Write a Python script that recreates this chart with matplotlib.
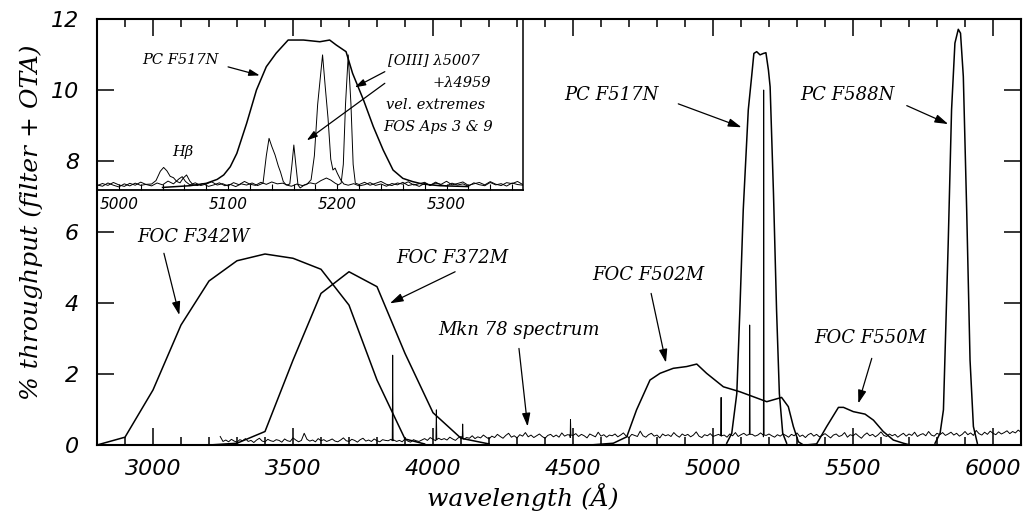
import numpy as np
import matplotlib.pyplot as plt
from matplotlib.ticker import MultipleLocator

# filter throughput curves (% throughput, filter + OTA)
f342w_wl = [2800, 2900, 3000, 3100, 3200, 3300, 3400, 3500, 3600, 3700, 3800, 3900, 3970]
f342w_val = [0.0, 0.22, 1.55, 3.38, 4.62, 5.19, 5.38, 5.26, 4.95, 3.94, 1.83, 0.17, 0.03]

f372m_wl = [3200, 3300, 3400, 3500, 3600, 3700, 3800, 3900, 4000, 4100, 4200]
f372m_val = [0.0, 0.05, 0.38, 2.39, 4.27, 4.88, 4.46, 2.58, 0.91, 0.19, 0.03]

f502m_wl = [4560, 4644, 4692, 4727, 4775, 4811, 4858, 4906, 4942, 4977, 5037, 5096,
            5144, 5192, 5245, 5269, 5287, 5305, 5323]
f502m_val = [0.0, 0.05, 0.23, 0.99, 1.83, 2.02, 2.16, 2.21, 2.28, 2.02, 1.64, 1.50,
             1.36, 1.22, 1.34, 1.08, 0.52, 0.09, 0.0]

f550m_wl = [5330, 5370, 5406, 5448, 5466, 5501, 5543, 5573, 5608, 5644, 5680, 5704]
f550m_val = [0.0, 0.03, 0.52, 1.06, 1.06, 0.94, 0.87, 0.70, 0.38, 0.14, 0.05, 0.0]

f517n_wl = [5049, 5067, 5085, 5096, 5108, 5126, 5138, 5146, 5156, 5168, 5180, 5189,
            5198, 5204, 5216, 5227, 5237, 5249, 5263]
f517n_val = [0.05, 0.33, 1.45, 3.80, 6.62, 9.44, 10.38, 11.03, 11.08, 10.99, 11.03, 11.05,
             10.56, 10.09, 7.09, 3.80, 1.45, 0.33, 0.05]

f588n_wl = [5793, 5811, 5823, 5840, 5852, 5864, 5876, 5884, 5894, 5906, 5918, 5930, 5944]
f588n_val = [0.05, 0.33, 0.99, 5.68, 9.44, 11.32, 11.71, 11.60, 10.38, 6.62, 2.39, 0.52, 0.05]

# Mkn 78 spectrum, 10 A steps from 3240 A
spec_start = 3240
spec_step = 10
spec_flux = [
    0.24, 0.10, 0.14, 0.09, 0.16, 0.11, 0.08, 0.15, 0.12, 0.18, 0.10, 0.13, 0.07, 0.14, 0.19, 0.11, 0.09, 0.16, 0.12, 0.10,
    0.15, 0.13, 0.08, 0.17, 0.12, 0.10, 0.20, 0.14, 0.09, 0.13, 0.33, 0.16, 0.11, 0.14, 0.09, 0.18, 0.12, 0.15, 0.10, 0.13,
    0.17, 0.11, 0.09, 0.14, 0.20, 0.12, 0.10, 0.16, 0.13, 0.08, 0.15, 0.19, 0.11, 0.14, 0.10, 0.17, 0.12, 0.09, 0.15, 0.13,
    0.12, 0.16, 0.14, 0.10, 0.13, 0.09, 0.17, 0.11, 0.08, 0.15, 0.12, 0.10, 0.14, 0.18, 0.13, 0.21, 0.16, 0.12, 0.19, 0.15,
    0.18, 0.14, 0.22, 0.17, 0.13, 0.20, 0.24, 0.16, 0.21, 0.19, 0.26, 0.18, 0.23, 0.20, 0.28, 0.22, 0.17, 0.25, 0.21, 0.30,
    0.24, 0.19, 0.27, 0.33, 0.22, 0.26, 0.20, 0.29, 0.25, 0.35, 0.23, 0.28, 0.21, 0.26, 0.31, 0.24, 0.19, 0.27, 0.30, 0.23,
    0.28, 0.22, 0.34, 0.25, 0.29, 0.21, 0.27, 0.32, 0.24, 0.30, 0.26, 0.20, 0.31, 0.27, 0.23, 0.36, 0.25, 0.29, 0.22, 0.28,
    0.26, 0.31, 0.23, 0.28, 0.34, 0.25, 0.21, 0.30, 0.27, 0.24, 0.39, 0.26, 0.22, 0.29, 0.33, 0.25, 0.28, 0.20, 0.31, 0.26,
    0.29, 0.24, 0.35, 0.27, 0.22, 0.31, 0.26, 0.30, 0.23, 0.28, 0.37, 0.25, 0.21, 0.29, 0.26, 0.32, 0.24, 0.27, 0.30, 0.25,
    0.28, 0.22, 0.31, 0.26, 0.35, 0.24, 0.29, 0.33, 0.27, 0.36, 0.30, 0.25, 0.28, 0.34, 0.23, 0.27, 0.31, 0.26, 0.22, 0.29,
    0.25, 0.31, 0.27, 0.22, 0.30, 0.26, 0.34, 0.24, 0.28, 0.21, 0.29, 0.33, 0.25, 0.30, 0.23, 0.27, 0.32, 0.26, 0.20, 0.28,
    0.31, 0.24, 0.27, 0.35, 0.22, 0.29, 0.26, 0.32, 0.25, 0.19, 0.28, 0.34, 0.26, 0.30, 0.23, 0.29, 0.37, 0.27, 0.24, 0.31,
    0.26, 0.30, 0.22, 0.28, 0.33, 0.25, 0.31, 0.27, 0.36, 0.24, 0.29, 0.32, 0.26, 0.38, 0.28, 0.25, 0.33, 0.29, 0.35, 0.27,
    0.31, 0.36, 0.28, 0.33, 0.25, 0.30, 0.38, 0.29, 0.34, 0.27, 0.41, 0.32, 0.28, 0.36, 0.30, 0.39, 0.33, 0.29, 0.37, 0.31,
    0.35, 0.40, 0.32, 0.38, 0.34, 0.42, 0.36,
]
# narrow emission lines on top of the spectrum
line_wl = [3856, 4012, 4106, 4491, 5029, 5131, 5181]
line_peak = [2.53, 0.99, 0.59, 0.72, 1.34, 3.38, 10.0]
line_foot = [0.12, 0.15, 0.20, 0.28, 0.26, 0.30, 0.28]

# inset: PC F517N (relative) and two FOS spectra (velocity extremes)
ins_filt_wl = [5040, 5065, 5080, 5090, 5096, 5102, 5108, 5117, 5126, 5135, 5144, 5155, 5169, 5184,
               5193, 5199, 5208, 5214, 5224, 5233, 5242, 5251, 5260, 5269, 5278, 5294, 5320]
ins_filt_val = [0.015, 0.025, 0.039, 0.062, 0.088, 0.136, 0.214, 0.39, 0.585, 0.721, 0.80, 0.877, 0.877, 0.867,
                0.877, 0.848, 0.809, 0.682, 0.526, 0.37, 0.234, 0.117, 0.068, 0.049, 0.035, 0.025, 0.02]

ap3 = [(4980, 0.030), (4985, 0.022), (4990, 0.041), (4995, 0.028), (5000, 0.018), (5005, 0.036),
       (5010, 0.024), (5015, 0.040), (5020, 0.027), (5025, 0.033), (5030, 0.035), (5034, 0.055),
       (5038, 0.110), (5041, 0.132), (5044, 0.112), (5047, 0.080), (5050, 0.072), (5053, 0.050),
       (5056, 0.042), (5059, 0.070), (5062, 0.088), (5065, 0.052), (5068, 0.030), (5072, 0.026),
       (5077, 0.038), (5082, 0.021), (5087, 0.030), (5092, 0.042), (5097, 0.025), (5102, 0.033),
       (5107, 0.020), (5112, 0.036), (5117, 0.029), (5122, 0.041), (5127, 0.026), (5132, 0.040),
       (5135, 0.200), (5137.5, 0.302), (5140, 0.255), (5143, 0.205), (5146, 0.140), (5148, 0.105),
       (5150.5, 0.050), (5153, 0.030), (5158, 0.022), (5163, 0.035), (5168, 0.026), (5172, 0.032),
       (5176, 0.060), (5179, 0.200), (5182, 0.500), (5186.5, 0.790), (5189, 0.600), (5191.5, 0.420),
       (5194, 0.180), (5196, 0.117), (5198, 0.128), (5200, 0.098), (5203, 0.060), (5206, 0.035),
       (5210, 0.028), (5215, 0.037), (5220, 0.024), (5225, 0.031), (5230, 0.043), (5235, 0.027),
       (5240, 0.035), (5245, 0.022), (5250, 0.038), (5255, 0.030), (5260, 0.045), (5265, 0.026),
       (5270, 0.034), (5275, 0.021), (5280, 0.039), (5285, 0.028), (5290, 0.046), (5295, 0.030),
       (5300, 0.024), (5305, 0.040), (5310, 0.029), (5315, 0.036), (5320, 0.022), (5325, 0.042),
       (5330, 0.031), (5335, 0.025), (5340, 0.044), (5345, 0.030), (5350, 0.037), (5355, 0.023),
       (5360, 0.041), (5365, 0.032), (5370, 0.028)]

ap9 = [(4980, 0.025), (4985, 0.038), (4990, 0.027), (4995, 0.044), (5000, 0.030), (5005, 0.021),
       (5010, 0.039), (5015, 0.028), (5020, 0.046), (5025, 0.032), (5030, 0.024), (5035, 0.041),
       (5040, 0.030), (5045, 0.052), (5050, 0.036), (5055, 0.065), (5058, 0.078), (5061, 0.050),
       (5065, 0.030), (5070, 0.042), (5075, 0.026), (5080, 0.035), (5085, 0.048), (5090, 0.029),
       (5095, 0.037), (5100, 0.024), (5105, 0.043), (5110, 0.031), (5115, 0.050), (5120, 0.034),
       (5125, 0.027), (5130, 0.045), (5135, 0.033), (5140, 0.047), (5145, 0.036), (5150, 0.040),
       (5154, 0.030), (5156.5, 0.035), (5158.5, 0.150), (5160.2, 0.263), (5162, 0.150), (5164, 0.030),
       (5166, 0.012), (5170, 0.030), (5175, 0.042), (5180, 0.035), (5185, 0.055), (5190, 0.070),
       (5194, 0.058), (5198, 0.040), (5201, 0.030), (5203.5, 0.040), (5205.5, 0.150), (5207.5, 0.500),
       (5210, 0.790), (5212.5, 0.500), (5214.5, 0.150), (5216.5, 0.040), (5220, 0.032), (5225, 0.045),
       (5230, 0.028), (5235, 0.039), (5240, 0.050), (5245, 0.033), (5250, 0.026), (5255, 0.041),
       (5260, 0.034), (5265, 0.048), (5270, 0.029), (5275, 0.037), (5280, 0.045), (5285, 0.026),
       (5290, 0.040), (5295, 0.033), (5300, 0.051), (5305, 0.030), (5310, 0.038), (5315, 0.047),
       (5320, 0.027), (5325, 0.036), (5330, 0.044), (5335, 0.030), (5340, 0.049), (5345, 0.034),
       (5350, 0.026), (5355, 0.043), (5360, 0.037), (5365, 0.050), (5370, 0.031)]

W, H = 1026, 523
serif = dict(family='DejaVu Serif', style='italic')
arrow = dict(arrowstyle='-|>,head_length=0.8,head_width=0.25', color='k', lw=0.9,
             shrinkA=0, shrinkB=0, mutation_scale=10)
arrow_small = dict(arrow, mutation_scale=8)

fig = plt.figure(figsize=(W / 100, H / 100), dpi=100)
ax = fig.add_axes([97 / W, 1 - 445 / H, 924 / W, 426 / H])

ax.plot(f342w_wl, f342w_val, 'k-', lw=1.1)
ax.plot(f372m_wl, f372m_val, 'k-', lw=1.1)
ax.plot(f502m_wl, f502m_val, 'k-', lw=1.1)
ax.plot(f550m_wl, f550m_val, 'k-', lw=1.1)
ax.plot(f517n_wl, f517n_val, 'k-', lw=1.1)
ax.plot(f588n_wl, f588n_val, 'k-', lw=1.1)

# spectrum with the narrow lines merged in
sw = list(spec_start + spec_step * np.arange(len(spec_flux)))
sf = list(spec_flux)
for w, p, b in zip(line_wl, line_peak, line_foot):
    sw += [w - 1.5, w, w + 1.5]
    sf += [b, p, b]
order = np.argsort(sw, kind='stable')
ax.plot(np.array(sw)[order], np.array(sf)[order], 'k-', lw=0.7)

ax.set_xlim(2800, 6100)
ax.set_ylim(0, 12)
ax.xaxis.set_major_locator(MultipleLocator(500))
ax.xaxis.set_minor_locator(MultipleLocator(100))
ax.yaxis.set_major_locator(MultipleLocator(2))
ax.tick_params(which='both', direction='in', top=True, right=True, width=1.1)
ax.tick_params(which='major', length=12)
ax.tick_params(which='minor', length=6)
ax.tick_params(axis='x', pad=10)
ax.tick_params(axis='y', pad=13)
for lab in ax.get_xticklabels() + ax.get_yticklabels():
    lab.set_fontsize(16)
    lab.set_fontstyle('oblique')
for sp in ax.spines.values():
    sp.set_linewidth(1.5)

fig.text(523 / W, 1 - 497 / H, 'wavelength (Å)', ha='center', va='center', fontsize=18, **serif)
fig.text(31 / W, 1 - 222 / H, '% throughput (filter + OTA)', ha='center', va='center',
         rotation=90, fontsize=18, **serif)

# labels in the main panel
ax.text(4638, 9.86, 'PC F517N', ha='center', va='center', fontsize=13, **serif)
ax.annotate('', xy=(5102, 8.95), xytext=(4876, 9.61), arrowprops=arrow)
ax.text(5480, 9.86, 'PC F588N', ha='center', va='center', fontsize=13, **serif)
ax.annotate('', xy=(5840, 9.04), xytext=(5692, 9.56), arrowprops=arrow)
ax.text(4768, 4.79, 'FOC F502M', ha='center', va='center', fontsize=13, **serif)
ax.annotate('', xy=(4832, 2.32), xytext=(4779, 4.27), arrowprops=arrow)
ax.text(5562, 3.01, 'FOC F550M', ha='center', va='center', fontsize=13, **serif)
ax.annotate('', xy=(5519, 1.17), xytext=(5567, 2.44), arrowprops=arrow)
ax.text(4307, 3.24, 'Mkn 78 spectrum', ha='center', va='center', fontsize=13, **serif)
ax.annotate('', xy=(4338, 0.52), xytext=(4307, 2.72), arrowprops=arrow)
ax.text(3146, 5.85, 'FOC F342W', ha='center', va='center', fontsize=13, **serif)
ax.annotate('', xy=(3094, 3.66), xytext=(3039, 5.40), arrowprops=arrow)
ax.text(4070, 5.26, 'FOC F372M', ha='center', va='center', fontsize=13, **serif)
ax.annotate('', xy=(3846, 3.99), xytext=(4079, 4.88), arrowprops=arrow)

# inset
ins = fig.add_axes([97 / W, 1 - 190 / H, 426 / W, 171 / H])
ins.set_facecolor('none')
ins.plot(ins_filt_wl, ins_filt_val, 'k-', lw=1.1)
ins.plot([p[0] for p in ap3], [p[1] for p in ap3], 'k-', lw=0.7)
ins.plot([p[0] for p in ap9], [p[1] for p in ap9], 'k-', lw=0.7)
ins.set_xlim(4980, 5370)
ins.set_ylim(0, 1)
ins.spines['top'].set_visible(False)
ins.spines['left'].set_visible(False)
ins.spines['bottom'].set_linewidth(1.3)
ins.spines['right'].set_linewidth(1.1)
ins.xaxis.set_major_locator(MultipleLocator(100))
ins.xaxis.set_minor_locator(MultipleLocator(20))
ins.set_yticks([])
ins.tick_params(which='both', direction='in', length=4, width=0.8, pad=5)
for lab in ins.get_xticklabels():
    lab.set_fontsize(11)
    lab.set_fontstyle('oblique')

ins.text(5056, 0.76, 'PC F517N', ha='center', va='center', fontsize=10.5, **serif)
ins.annotate('', xy=(5129, 0.67), xytext=(5100, 0.72), arrowprops=arrow_small)
ins.text(5246, 0.76, '[OIII] λ5007', ha='left', va='center', fontsize=10.5, **serif)
ins.text(5287, 0.627, '+λ4959', ha='left', va='center', fontsize=10.5, **serif)
ins.text(5245, 0.497, 'vel. extremes', ha='left', va='center', fontsize=10.5, **serif)
ins.text(5242, 0.37, 'FOS Aps 3 & 9', ha='left', va='center', fontsize=10.5, **serif)
ins.annotate('', xy=(5216, 0.60), xytext=(5243.5, 0.692), arrowprops=arrow_small)
ins.annotate('', xy=(5172, 0.29), xytext=(5243.5, 0.624), arrowprops=arrow_small)
ins.text(5059, 0.222, 'Hβ', ha='center', va='center', fontsize=10.5, **serif)

fig.savefig('out.png', dpi=100)
